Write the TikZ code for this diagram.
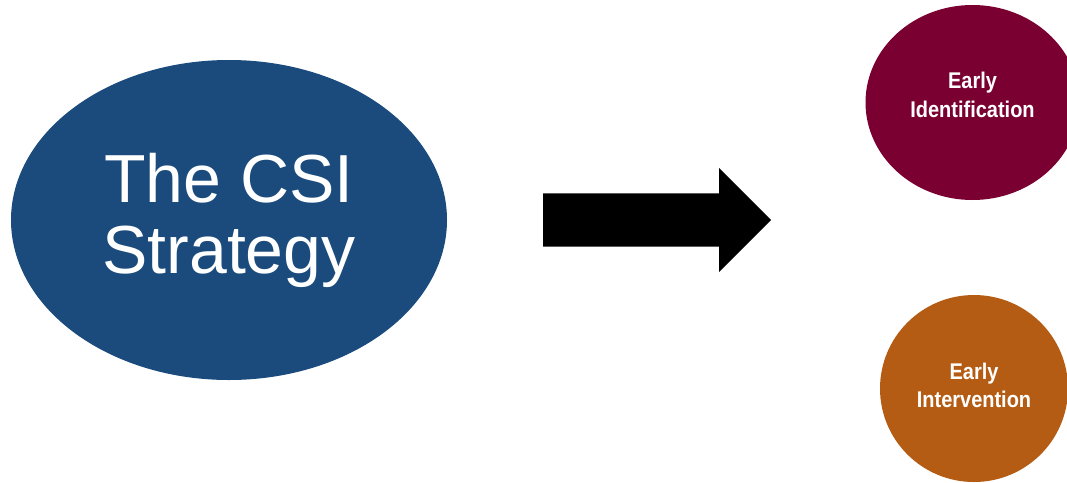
\documentclass[tikz,border=0pt]{standalone}
\usepackage{fontspec}
\setmainfont{Liberation Sans}
\newfontfamily\narrowsans[FakeStretch=0.88]{Liberation Sans}
\usetikzlibrary{shapes.geometric,shapes.arrows}

\definecolor{csiblue}{RGB}{27,75,124}
\definecolor{idmaroon}{RGB}{122,0,50}
\definecolor{ivorange}{RGB}{180,92,20}

\begin{document}
\begin{tikzpicture}[
      x=1pt, y=-1pt,
      blob/.style   = {ellipse, inner sep=0pt, text=white, align=center},
      big/.style    = {blob, fill=csiblue, minimum width=436pt, minimum height=320pt,
                       font=\fontsize{68}{71}\selectfont},
      small/.style  = {blob, font=\narrowsans\bfseries\fontsize{22.7}{28.5}\selectfont},
      fat/.style    = {single arrow, fill=black, inner sep=0pt,
                       text height=26.5pt, text depth=26.5pt,
                       minimum height=228pt, minimum width=104pt,
                       single arrow head extend=25.5pt},
    ]
    \useasboundingbox (0,0) rectangle (1067,482);

    \node[big] (csi) at (229,220) {The CSI\\Strategy};
    \node[fat, anchor=tail] (arrow) at (543,220) {};

    \node[small, fill=idmaroon, minimum width=214pt, minimum height=195pt,
          text depth=15pt] (ident) at (972.5,102.5) {Early\\Identification};
    \node[small, fill=ivorange, minimum width=188pt, minimum height=187pt,
          text depth=6pt] (interv) at (974,388.5) {Early\\Intervention};
  \end{tikzpicture}
\end{document}
